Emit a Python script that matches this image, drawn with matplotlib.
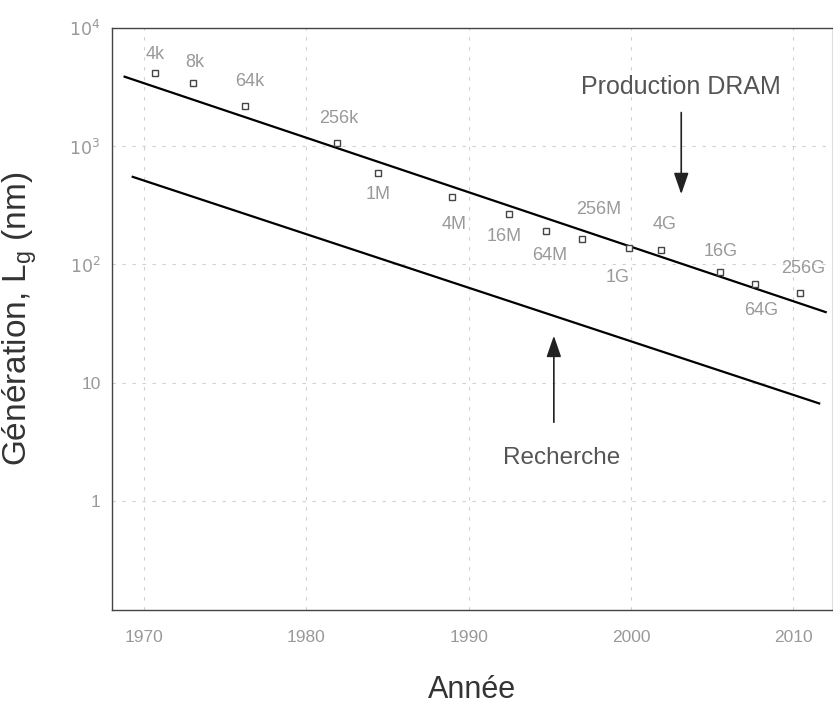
import matplotlib.pyplot as plt
import numpy as np

plt.rcParams['font.family'] = ['Liberation Sans', 'DejaVu Sans']

# Données : générations DRAM
annees = [1970.7, 1973.0, 1976.2, 1981.9, 1984.4, 1989.0, 1992.5,
          1994.75, 1997.0, 1999.9, 2001.85, 2005.5, 2007.65, 2010.4]
tailles = [4170, 3430, 2190, 1060, 594, 372, 267, 192, 164, 138, 133, 86, 68, 57]
generations = ["4k", "8k", "64k", "256k", "1M", "4M", "16M", "64M",
               "256M", "1G", "4G", "16G", "64G", "256G"]
# position des étiquettes (année, valeur)
etiq_x = [1970.7, 1973.1, 1976.5, 1982.0, 1984.4, 1989.1, 1992.2,
          1995.0, 1998.0, 1999.2, 2002.1, 2005.5, 2008.0, 2010.6]
etiq_y = [6000, 5060, 3490, 1700, 387, 216, 171, 118, 290, 78, 216, 128, 41, 93]

# Droites de tendance
prod_x = [1968.8, 2012.0]
prod_y = [3860, 39.6]
rech_x = [1969.3, 2011.6]
rech_y = [550, 6.7]

fig = plt.figure(figsize=(8.33, 7.12), dpi=100)
ax = fig.add_axes([0.134, 0.143, 0.865, 0.818])

ax.plot(prod_x, prod_y, color="black", lw=1.6)
ax.plot(rech_x, rech_y, color="black", lw=1.6)
ax.plot(annees, tailles, linestyle="none", marker="s", markersize=5,
        markerfacecolor="white", markeredgecolor="#444444", markeredgewidth=1.0)

for lab, x, y in zip(generations, etiq_x, etiq_y):
    ax.text(x, y, lab, fontsize=13, color="#999999", ha="center", va="center")

# Flèches
ax.annotate("", xy=(2003.1, 372), xytext=(2003.1, 2030),
            arrowprops=dict(arrowstyle="-|>,head_length=1.3,head_width=0.45",
                            color="#222222", lw=1.2))
ax.text(2003.1, 3160, "Production DRAM", fontsize=18, color="#555555",
        ha="center", va="center")
ax.annotate("", xy=(1995.25, 26.4), xytext=(1995.25, 4.4),
            arrowprops=dict(arrowstyle="-|>,head_length=1.3,head_width=0.45",
                            color="#222222", lw=1.2))
ax.text(1995.7, 2.3, "Recherche", fontsize=17.5, color="#555555",
        ha="center", va="center")

ax.set_yscale("log")
ax.set_xlim(1968.0, 2012.4)
ax.set_ylim(0.12, 1e4)
ax.set_xticks([1970, 1980, 1990, 2000, 2010])
ax.set_yticks([1, 10, 100, 1000, 10000])
ax.set_yticklabels(["1", "10", r"$10^2$", r"$10^3$", r"$10^4$"])
ax.yaxis.set_minor_locator(plt.NullLocator())
ax.tick_params(axis="both", length=0, labelsize=12.5, colors="#999999")
ax.tick_params(axis="x", pad=14)
ax.tick_params(axis="y", pad=8)

ax.grid(True, linestyle=(0, (3, 6)), color="#d0d0d0", lw=0.8)

for s in ["left", "top", "bottom"]:
    ax.spines[s].set_color("#444444")
    ax.spines[s].set_linewidth(1.0)
ax.spines["right"].set_color("#dddddd")

ax.set_xlabel("Année", fontsize=22, color="#333333", labelpad=22)
ax.set_ylabel("Génération, L$_\\mathregular{g}$ (nm)", fontsize=24,
              color="#333333", labelpad=22)

fig.savefig("out.png", dpi=100)
